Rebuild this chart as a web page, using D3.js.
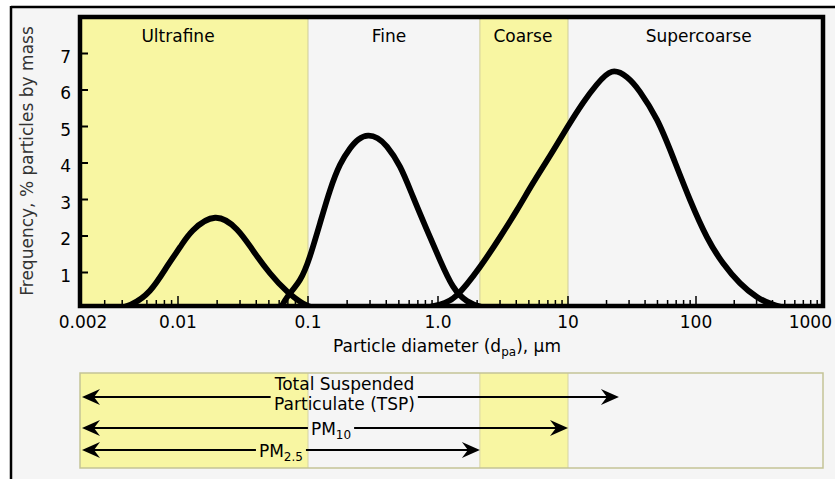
<!DOCTYPE html>
<html>
<head>
<meta charset="utf-8">
<script src="https://cdn.jsdelivr.net/npm/d3@7"></script>
<style>
  html, body { margin: 0; padding: 0; background: #ffffff; }
  svg { display: block; font-family: "DejaVu Sans", Verdana, sans-serif; }
</style>
</head>
<body>
<svg id="chart" width="835" height="479"></svg>
<script>
// ---------------- data ----------------
const xTickValues = [0.002, 0.01, 0.1, 1, 10, 100, 1000];
const xTickLabels = ["0.002", "0.01", "0.1", "1.0", "10", "100", "1000"];
const yTickValues = [1, 2, 3, 4, 5, 6, 7];

const bandNames   = ["Ultrafine", "Fine", "Coarse", "Supercoarse"];
const bandFrom    = [0.002, 0.1, 2.1, 10];
const bandTo      = [0.1, 2.1, 10, 1000];
const bandLabelAt = [0.01, 0.42, 4.5, 105];
const bandShaded  = [true, false, true, false];

// [diameter µm, % by mass]
const ultrafine = [
  [0.0036, 0], [0.0046, 0.12], [0.0063, 0.5], [0.0084, 1.18], [0.0104, 1.7], [0.013, 2.15],
  [0.0193, 2.5], [0.0284, 2.18], [0.0378, 1.6], [0.051, 0.98], [0.069, 0.48],
  [0.0916, 0.15], [0.115, 0]
];
const fine = [
  [0.061, 0], [0.0702, 0.36], [0.0868, 0.8], [0.1036, 1.45], [0.1237, 2.35],
  [0.1477, 3.25], [0.1763, 3.95], [0.2104, 4.4], [0.245, 4.65], [0.29, 4.75], [0.343, 4.68],
  [0.405, 4.45], [0.51, 3.9], [0.643, 3.07], [0.823, 2.16], [1.036, 1.34], [1.305, 0.62],
  [1.67, 0.22], [2.18, 0.05], [2.9, 0]
];
const supercoarse = [
  [0.727, 0], [1.036, 0.12], [1.40, 0.38], [2.10, 1.15], [3.0, 1.97],
  [4.05, 2.71], [5.38, 3.45], [7.27, 4.2], [9.8, 4.96], [13.1, 5.65],
  [16.8, 6.15], [22.0, 6.5], [28.9, 6.35], [36.5, 5.95], [49.6, 5.18],
  [66.1, 4.16], [89.8, 2.99], [122, 1.97], [163, 1.26], [222, 0.71],
  [302, 0.33], [404, 0.12], [550, 0]
];
const modes = [ultrafine, fine, supercoarse];

// size-fraction arrows (upper cut in µm)
const fractionNames = ["TSP", "PM10", "PM2.5"];
const fractionUpper = [25, 10, 2.1];

// ---------------- layout ----------------
const svg = d3.select("#chart");
const W = 835, H = 479;
const plot = { left: 80, right: 823, top: 17, bottom: 306 };
const yellow = "#f8f6a2";
const bg = "#f5f5f5";

// log axis as drawn in the reference (piecewise log)
const x = d3.scaleLog()
  .domain(xTickValues)
  .range([80, 178, 308, 438, 568, 696, 823]);
const y = d3.scaleLinear().domain([0, 8]).range([309, 17]);

// outer frame
svg.append("rect").attr("x", 0).attr("y", 0).attr("width", W).attr("height", H).attr("fill", "#ffffff");
svg.append("rect").attr("x", 11).attr("y", 7).attr("width", W).attr("height", H).attr("fill", bg);
svg.append("line").attr("x1", 11).attr("x2", W).attr("y1", 7).attr("y2", 7)
  .attr("stroke", "#000").attr("stroke-width", 2.5);
svg.append("line").attr("x1", 11).attr("x2", 11).attr("y1", 6).attr("y2", H)
  .attr("stroke", "#000").attr("stroke-width", 2.5);

// clip
svg.append("defs").append("clipPath").attr("id", "plotclip")
  .append("rect").attr("x", plot.left).attr("y", plot.top)
  .attr("width", plot.right - plot.left).attr("height", plot.bottom - plot.top);

// bands
const gBands = svg.append("g");
bandNames.forEach((n, i) => {
  if (bandShaded[i]) {
    gBands.append("rect")
      .attr("x", x(bandFrom[i])).attr("y", plot.top)
      .attr("width", x(bandTo[i]) - x(bandFrom[i]))
      .attr("height", plot.bottom - plot.top)
      .attr("fill", yellow);
  }
});
// faint band edges
[0.1, 2.1, 10].forEach(v => {
  gBands.append("line").attr("x1", x(v)).attr("x2", x(v))
    .attr("y1", plot.top).attr("y2", plot.bottom)
    .attr("stroke", "#cfcd9c").attr("stroke-width", 1);
});

// curves
const line = d3.line().x(d => x(d[0])).y(d => y(d[1])).curve(d3.curveNatural);
const gCurves = svg.append("g").attr("clip-path", "url(#plotclip)");
modes.forEach(m => {
  gCurves.append("path").attr("d", line(m))
    .attr("fill", "none").attr("stroke", "#000")
    .attr("stroke-width", 5.8).attr("stroke-linejoin", "round");
});

// frame
svg.append("rect")
  .attr("x", plot.left).attr("y", plot.top)
  .attr("width", plot.right - plot.left).attr("height", plot.bottom - plot.top)
  .attr("fill", "none").attr("stroke", "#000").attr("stroke-width", 4.5);

// x ticks (inward)
const minorTicks = x.ticks().filter(v => !xTickValues.some(t => Math.abs(t - v) / t < 1e-6));
const gx = svg.append("g");
minorTicks.forEach(v => {
  gx.append("line").attr("x1", x(v)).attr("x2", x(v))
    .attr("y1", plot.bottom).attr("y2", plot.bottom - 6)
    .attr("stroke", "#000").attr("stroke-width", 1.5);
});
xTickValues.forEach(v => {
  gx.append("line").attr("x1", x(v)).attr("x2", x(v))
    .attr("y1", plot.bottom).attr("y2", plot.bottom - 10)
    .attr("stroke", "#000").attr("stroke-width", 1.5);
});
xTickValues.forEach((v, i) => {
  const last = i === xTickValues.length - 1;
  gx.append("text")
    .attr("x", last ? x(v) + 9 : (i === 0 ? x(v) + 3 : x(v)))
    .attr("y", 328)
    .attr("text-anchor", last ? "end" : "middle")
    .attr("font-size", 17).attr("fill", "#000")
    .text(xTickLabels[i]);
});

// y ticks
const gy = svg.append("g");
yTickValues.forEach(v => {
  gy.append("line").attr("x1", plot.left).attr("x2", plot.left + 8)
    .attr("y1", y(v)).attr("y2", y(v))
    .attr("stroke", "#000").attr("stroke-width", 2);
  gy.append("text").attr("x", 71).attr("y", y(v) + 9)
    .attr("text-anchor", "end").attr("font-size", 17).attr("fill", "#000")
    .text(v);
});

// axis titles
svg.append("text")
  .attr("transform", "translate(33,161) rotate(-90)")
  .attr("text-anchor", "middle").attr("font-size", 17).attr("fill", "#333")
  .text("Frequency, % particles by mass");

const xt = svg.append("text").attr("x", 447).attr("y", 352)
  .attr("text-anchor", "middle").attr("font-size", 17).attr("fill", "#000");
xt.append("tspan").text("Particle diameter (d");
xt.append("tspan").attr("font-size", 12).attr("dy", 4).text("pa");
xt.append("tspan").attr("dy", -4).text("), μm");

// band labels
bandNames.forEach((n, i) => {
  svg.append("text").attr("x", x(bandLabelAt[i])).attr("y", 42)
    .attr("text-anchor", "middle").attr("font-size", 17).attr("fill", "#000")
    .text(n);
});

// ---------------- size-fraction panel ----------------
const box = { top: 373, bottom: 468 };
const gp = svg.append("g");
bandNames.forEach((n, i) => {
  if (bandShaded[i]) {
    gp.append("rect")
      .attr("x", x(bandFrom[i])).attr("y", box.top)
      .attr("width", x(bandTo[i]) - x(bandFrom[i]))
      .attr("height", box.bottom - box.top)
      .attr("fill", yellow);
  }
});
[0.1, 2.1, 10].forEach(v => {
  gp.append("line").attr("x1", x(v)).attr("x2", x(v))
    .attr("y1", box.top).attr("y2", box.bottom)
    .attr("stroke", "#d6d4a4").attr("stroke-width", 1);
});
gp.append("rect")
  .attr("x", plot.left).attr("y", box.top)
  .attr("width", plot.right - plot.left).attr("height", box.bottom - box.top)
  .attr("fill", "none").attr("stroke", "#c4c396").attr("stroke-width", 1.5);

const arrowY = [397, 428, 450];
function arrowHead(tx, ty, dir) {
  return `M${tx},${ty} L${tx - dir * 18},${ty - 8} L${tx - dir * 12},${ty} L${tx - dir * 18},${ty + 8} Z`;
}

fractionNames.forEach((name, i) => {
  const x0 = x(0.002) + 2;
  const x1 = x(fractionUpper[i]);
  const cy = arrowY[i];
  const cx = (x0 + x1) / 2;
  const gt = gp.append("g");
  if (name === "TSP") {
    gt.append("text").attr("x", cx - 6).attr("y", cy - 7)
      .attr("text-anchor", "middle").attr("font-size", 17).attr("fill", "#000")
      .text("Total Suspended");
    gt.append("text").attr("x", cx - 6).attr("y", cy + 13)
      .attr("text-anchor", "middle").attr("font-size", 17).attr("fill", "#000")
      .text("Particulate (TSP)");
  } else {
    const t = gt.append("text").attr("x", cx + (name === "PM10" ? 6 : 0)).attr("y", cy + 7)
      .attr("text-anchor", "middle").attr("font-size", 17).attr("fill", "#000");
    t.append("tspan").text("PM");
    t.append("tspan").attr("font-size", 12).attr("dy", 4).text(name === "PM10" ? "10" : "2.5");
  }
  const bb = gt.node().getBBox();
  const gapL = bb.x - 3, gapR = bb.x + bb.width + 3;
  gp.append("line").attr("x1", x0 + 10).attr("x2", gapL).attr("y1", cy).attr("y2", cy)
    .attr("stroke", "#000").attr("stroke-width", 2);
  gp.append("line").attr("x1", gapR).attr("x2", x1 - 10).attr("y1", cy).attr("y2", cy)
    .attr("stroke", "#000").attr("stroke-width", 2);
  gp.append("path").attr("d", arrowHead(x0, cy, -1)).attr("fill", "#000");
  gp.append("path").attr("d", arrowHead(x1, cy, 1)).attr("fill", "#000");
});
</script>
</body>
</html>
